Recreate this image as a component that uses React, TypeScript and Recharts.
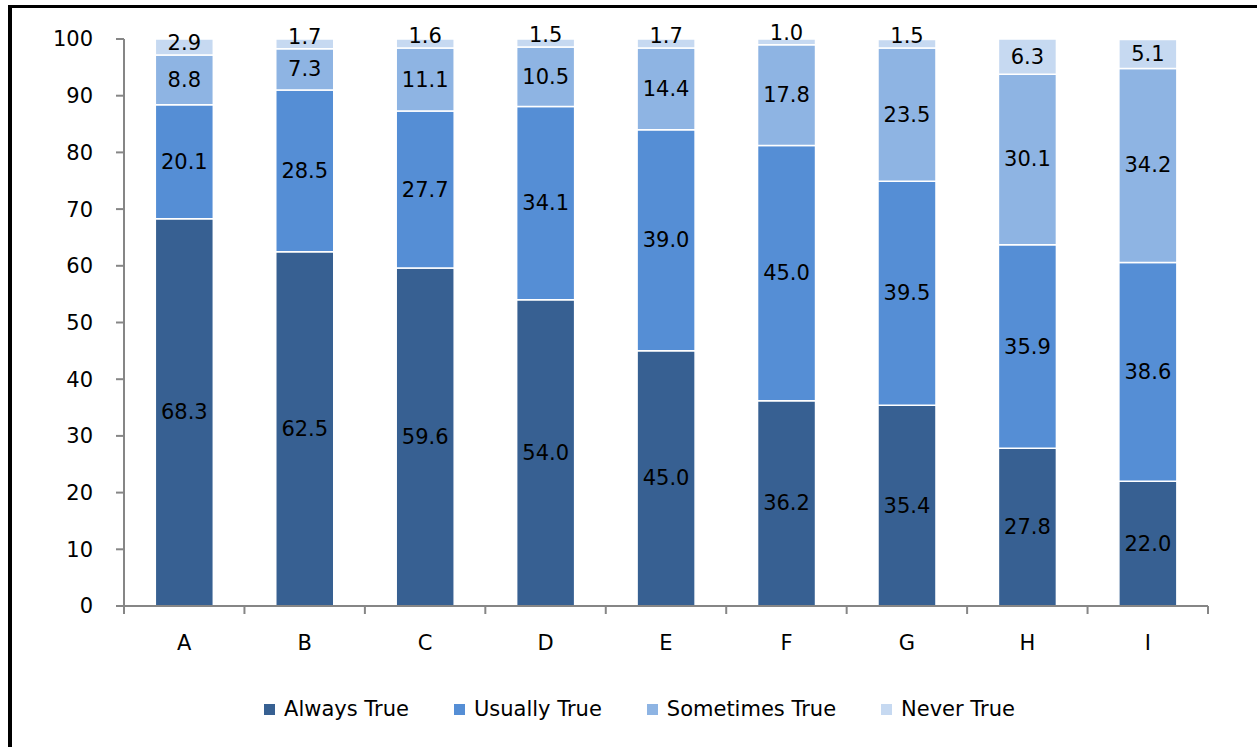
import React from 'react';
import { BarChart, Bar, XAxis, YAxis, Legend, LabelList } from 'recharts';

const categories = ['A', 'B', 'C', 'D', 'E', 'F', 'G', 'H', 'I'];
const alwaysTrue = [68.3, 62.5, 59.6, 54.0, 45.0, 36.2, 35.4, 27.8, 22.0];
const usuallyTrue = [20.1, 28.5, 27.7, 34.1, 39.0, 45.0, 39.5, 35.9, 38.6];
const sometimesTrue = [8.8, 7.3, 11.1, 10.5, 14.4, 17.8, 23.5, 30.1, 34.2];
const neverTrue = [2.9, 1.7, 1.6, 1.5, 1.7, 1.0, 1.5, 6.3, 5.1];
const yTicks = [0, 10, 20, 30, 40, 50, 60, 70, 80, 90, 100];

const seriesDefs = [
  { key: 'always', name: 'Always True', color: '#376092' },
  { key: 'usually', name: 'Usually True', color: '#558ED5' },
  { key: 'sometimes', name: 'Sometimes True', color: '#8EB4E3' },
  { key: 'never', name: 'Never True', color: '#C6D9F1' },
];

const data = categories.map((c, i) => ({
  name: c,
  always: alwaysTrue[i],
  usually: usuallyTrue[i],
  sometimes: sometimesTrue[i],
  never: neverTrue[i],
}));

const FONT = '"DejaVu Sans", sans-serif';
const FS = 21;
const AXIS_GRAY = '#868686';

const SegLabel = (props: any) => {
  const vb = props.viewBox || {};
  const x = props.x ?? vb.x;
  const y = props.y ?? vb.y;
  const width = props.width ?? vb.width;
  const height = props.height ?? vb.height;
  const value = props.value;
  if (value == null || x == null) return null;
  const cx = x + width / 2;
  const cy = height < 24 ? y + height - 12 : y + height / 2;
  return (
    <text
      x={cx}
      y={cy}
      textAnchor="middle"
      dominantBaseline="central"
      fontSize={FS}
      fontFamily={FONT}
      fill="#000"
    >
      {Number(value).toFixed(1)}
    </text>
  );
};

const CategoryTick = (props: any) => {
  const { x, y, payload, index } = props;
  const half = payload && payload.offset ? payload.offset : 0;
  const isLast = index === categories.length - 1;
  return (
    <g>
      <line x1={x - half} x2={x - half} y1={y} y2={y + 8} stroke={AXIS_GRAY} strokeWidth={2} />
      {isLast && <line x1={x + half} x2={x + half} y1={y} y2={y + 8} stroke={AXIS_GRAY} strokeWidth={2} />}
      <text x={x} y={y + 29} dy="0.71em" textAnchor="middle" fontSize={FS} fontFamily={FONT} fill="#000">
        {payload.value}
      </text>
    </g>
  );
};

const LegendContent = () => (
  <div
    style={{
      display: 'flex',
      justifyContent: 'center',
      alignItems: 'center',
      fontFamily: FONT,
      fontSize: FS,
      color: '#000',
      lineHeight: '24px',
      paddingLeft: 22,
    }}
  >
    {seriesDefs.map((s, i) => (
      <div
        key={s.key}
        style={{ display: 'flex', alignItems: 'center', marginRight: i < seriesDefs.length - 1 ? 45 : 0 }}
      >
        <span style={{ display: 'inline-block', width: 11, height: 11, background: s.color, marginRight: 9 }} />
        <span>{s.name}</span>
      </div>
    ))}
  </div>
);

export default function App() {
  return (
    <div style={{ position: 'absolute', left: 0, top: 0, width: 1257, height: 747, background: '#fff', overflow: 'hidden' }}>
      <div style={{ position: 'absolute', left: 8, top: 5, width: 1249, height: 3, background: '#000' }} />
      <div style={{ position: 'absolute', left: 8, top: 5, width: 4, height: 742, background: '#000' }} />
      <div style={{ position: 'absolute', left: 0, top: 0 }}>
        <BarChart
          width={1257}
          height={747}
          data={data}
          margin={{ top: 39, right: 49, left: 0, bottom: 101 }}
          barCategoryGap="26%"
        >
          <XAxis
            dataKey="name"
            height={40}
            axisLine={{ stroke: AXIS_GRAY, strokeWidth: 2 }}
            tickLine={false}
            tickSize={0}
            tickMargin={0}
            interval={0}
            tick={<CategoryTick />}
          />
          <YAxis
            width={124}
            domain={[0, 100]}
            ticks={yTicks}
            allowDataOverflow
            interval={0}
            tickSize={8}
            tickMargin={23}
            axisLine={{ stroke: AXIS_GRAY, strokeWidth: 2 }}
            tickLine={{ stroke: AXIS_GRAY, strokeWidth: 2 }}
            tick={{ fill: '#000', fontSize: FS, fontFamily: FONT }}
          />
          <Legend
            verticalAlign="middle"
            align="center"
            layout="horizontal"
            wrapperStyle={{ top: 697, left: 0, width: 1257 }}
            content={<LegendContent />}
          />
          {seriesDefs.map((s) => (
            <Bar
              key={s.key}
              dataKey={s.key}
              name={s.name}
              stackId="a"
              fill={s.color}
              stroke="#fff"
              strokeWidth={1.5}
              isAnimationActive={false}
            >
              <LabelList dataKey={s.key} content={<SegLabel />} />
            </Bar>
          ))}
        </BarChart>
      </div>
    </div>
  );
}
